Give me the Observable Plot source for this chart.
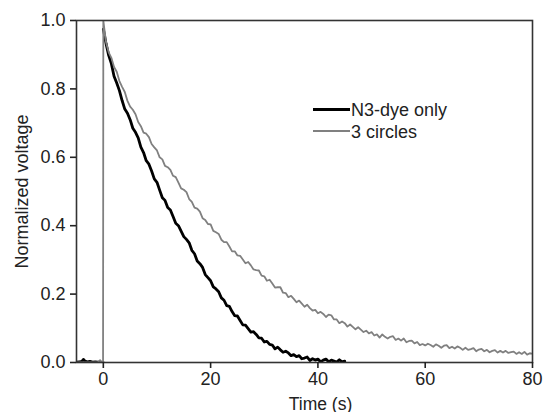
<!DOCTYPE html>
<html>
<head>
<meta charset="utf-8">
<script src="https://cdn.jsdelivr.net/npm/d3@7"></script>
<script src="https://cdn.jsdelivr.net/npm/@observablehq/plot@0.6"></script>
<style>
  html, body { margin: 0; padding: 0; background: #fff; }
  #wrap { position: relative; width: 545px; height: 412px; font-family: "Liberation Sans", Arial, sans-serif; }
  #legend { position: absolute; left: 0; top: 0; pointer-events: none; }
</style>
</head>
<body>
<div id="wrap"></div>
<script>
// ---- data ----
const seriesNames = ["N3-dye only", "3 circles"];
const xTitle = "Time (s)";
const yTitle = "Normalized voltage";
const xTicks = [0, 20, 40, 60, 80];
const yTicks = [0, 0.2, 0.4, 0.6, 0.8, 1.0];

// before the light pulse (t < 0)
const blackPreTimes = [-5, -4.5, -4, -3.7, -3.4, -3, -2.5, -2, -1.5, -1, -0.5, -0.05];
const blackPreValues = [0.001, 0.002, 0.003, 0.009, 0.004, 0.002, 0.003, 0.001, 0.002, 0.001, 0.001, 0.0];
const greyPreTimes = [-5, -3, -1, -0.6, -0.4, -0.05];
const greyPreValues = [0.0, 0.0, 0.001, 0.007, 0.002, 0.0];

// decay, sampled every 0.5 s from t = 0
const blackValues = [
  0.975, 0.933, 0.898, 0.874, 0.837, 0.817, 0.795, 0.766, 0.741, 0.729,
  0.710, 0.685, 0.673, 0.657, 0.630, 0.614, 0.590, 0.580, 0.560, 0.537,
  0.527, 0.504, 0.482, 0.474, 0.453, 0.446, 0.427, 0.407, 0.400, 0.384,
  0.368, 0.360, 0.350, 0.328, 0.318, 0.297, 0.289, 0.278, 0.257, 0.248,
  0.239, 0.221, 0.215, 0.207, 0.189, 0.182, 0.166, 0.164, 0.149, 0.137,
  0.136, 0.123, 0.110, 0.109, 0.099, 0.089, 0.090, 0.082, 0.072, 0.071,
  0.060, 0.062, 0.053, 0.051, 0.040, 0.045, 0.037, 0.030, 0.033, 0.028,
  0.020, 0.023, 0.017, 0.020, 0.011, 0.013, 0.016, 0.006, 0.011, 0.007,
  0.010, 0.002, 0.007, 0.010, 0.002, 0.007, 0.004, 0.001, 0.008, 0.002,
  0.004
];
const greyValues = [
  1.000, 0.937, 0.907, 0.891, 0.864, 0.850, 0.823, 0.806, 0.791, 0.765,
  0.748, 0.739, 0.726, 0.703, 0.691, 0.672, 0.669, 0.659, 0.639, 0.629,
  0.620, 0.600, 0.594, 0.575, 0.571, 0.563, 0.546, 0.542, 0.526, 0.509,
  0.505, 0.498, 0.478, 0.470, 0.453, 0.450, 0.441, 0.422, 0.417, 0.405,
  0.404, 0.385, 0.381, 0.376, 0.359, 0.352, 0.352, 0.339, 0.325, 0.325,
  0.313, 0.312, 0.301, 0.290, 0.294, 0.284, 0.272, 0.270, 0.269, 0.254,
  0.252, 0.239, 0.242, 0.231, 0.219, 0.220, 0.220, 0.204, 0.203, 0.191,
  0.195, 0.186, 0.176, 0.181, 0.172, 0.163, 0.169, 0.159, 0.152, 0.154,
  0.144, 0.148, 0.142, 0.133, 0.140, 0.138, 0.126, 0.126, 0.115, 0.120,
  0.115, 0.105, 0.111, 0.104, 0.097, 0.103, 0.096, 0.089, 0.093, 0.085,
  0.089, 0.079, 0.082, 0.073, 0.082, 0.075, 0.070, 0.075, 0.077, 0.066,
  0.070, 0.064, 0.070, 0.059, 0.063, 0.064, 0.056, 0.060, 0.051, 0.054,
  0.050, 0.055, 0.051, 0.046, 0.053, 0.049, 0.043, 0.049, 0.051, 0.042,
  0.046, 0.041, 0.047, 0.043, 0.037, 0.043, 0.037, 0.039, 0.042, 0.033,
  0.038, 0.040, 0.033, 0.037, 0.030, 0.034, 0.036, 0.029, 0.034, 0.029,
  0.034, 0.028, 0.030, 0.032, 0.025, 0.030, 0.025, 0.031, 0.023, 0.027,
  0.026
];

// ---- build tables ----
const step = 0.5;
const blackData = [
  ...blackPreTimes.map((t, i) => ({t, v: blackPreValues[i], seg: "pre"})),
  ...blackValues.map((v, i) => ({t: i * step, v, seg: "decay"}))
];
const greyData = [
  ...greyPreTimes.map((t, i) => ({t, v: greyPreValues[i]})),
  ...greyValues.map((v, i) => ({t: i * step, v}))
];

const font = "'Liberation Sans', Arial, sans-serif";

const chart = Plot.plot({
  width: 545,
  height: 412,
  marginLeft: 76,
  marginRight: 13,
  marginTop: 20,
  marginBottom: 50,
  style: {fontFamily: font, fontSize: "18px", color: "#222", background: "#fff"},
  x: {domain: [-5, 80]},
  y: {domain: [0, 1]},
  marks: [
    Plot.line(blackData, {x: "t", y: "v", z: "seg", stroke: "#000", strokeWidth: 2.8, clip: true}),
    Plot.line(greyData, {x: "t", y: "v", stroke: "#808080", strokeWidth: 1.8, clip: true}),
    Plot.frame({stroke: "#333", strokeWidth: 1.6}),
    Plot.axisX({ticks: xTicks, tickSize: 6, tickPadding: 4, strokeWidth: 1.6, label: null}),
    Plot.text([xTitle], {frameAnchor: "bottom", dx: 16, dy: 47, lineAnchor: "bottom", fontSize: 17.5, fill: "#222"}),
    Plot.axisY({ticks: yTicks, tickFormat: d3.format(".1f"), tickSize: 6, tickPadding: 5, strokeWidth: 1.6,
      label: yTitle, labelAnchor: "center", labelArrow: "none", labelOffset: 61})
  ]
});

const wrap = document.getElementById("wrap");
wrap.appendChild(chart);

// legend overlay
const ns = "http://www.w3.org/2000/svg";
const leg = document.createElementNS(ns, "svg");
leg.setAttribute("id", "legend");
leg.setAttribute("width", 545);
leg.setAttribute("height", 412);
const legendItems = [
  {name: seriesNames[0], stroke: "#000", width: 3, y: 109.5},
  {name: seriesNames[1], stroke: "#808080", width: 2, y: 131}
];
for (const it of legendItems) {
  const ln = document.createElementNS(ns, "line");
  ln.setAttribute("x1", 313); ln.setAttribute("x2", 350);
  ln.setAttribute("y1", it.y); ln.setAttribute("y2", it.y);
  ln.setAttribute("stroke", it.stroke); ln.setAttribute("stroke-width", it.width);
  leg.appendChild(ln);
  const tx = document.createElementNS(ns, "text");
  tx.setAttribute("x", 351); tx.setAttribute("y", it.y + 6.5);
  tx.setAttribute("font-family", font); tx.setAttribute("font-size", 18);
  tx.setAttribute("fill", "#222");
  tx.textContent = it.name;
  leg.appendChild(tx);
}
wrap.appendChild(leg);
</script>
</body>
</html>
